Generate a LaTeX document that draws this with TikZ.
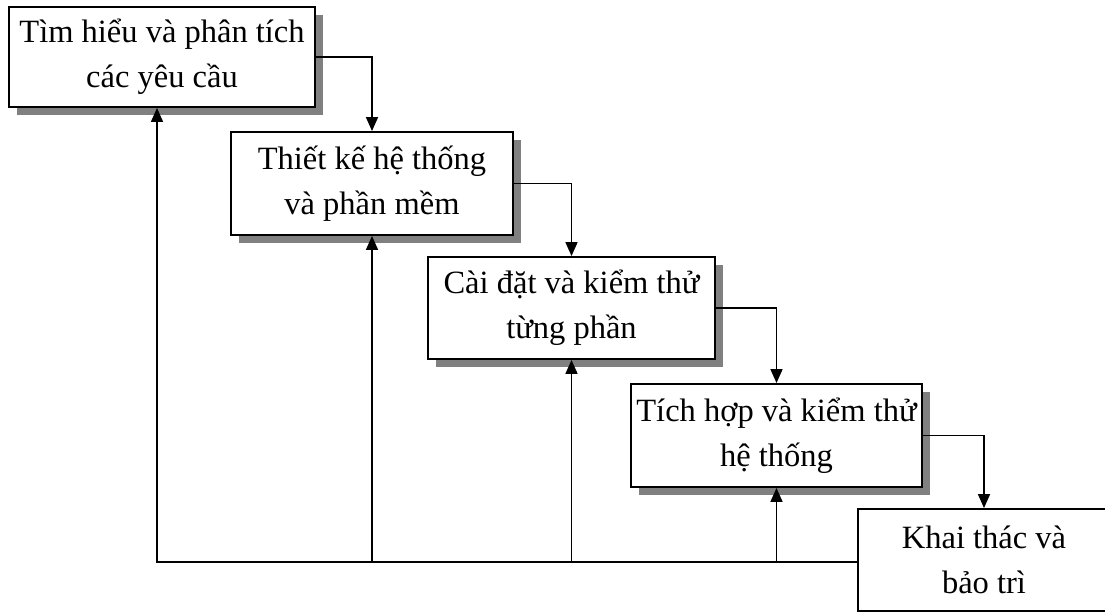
\documentclass[tikz,border=0pt]{standalone}
\usepackage{fontspec}
\setmainfont{Liberation Serif}
\usetikzlibrary{arrows.meta,shadows,calc}
\begin{document}
\begin{tikzpicture}[x=1pt,y=1pt,
  stage/.style={draw=black, line width=1.9pt, fill=white, rectangle, inner sep=0pt,
    align=center, font=\fontsize{32.5}{45}\selectfont,
    drop shadow={shadow xshift=8pt, shadow yshift=-8pt, fill=black!50, opacity=1}},
  arr/.style={line width=1.7pt, -{Triangle[length=14pt,width=12pt]}}]
\clip (0,0) rectangle (1105,-611);
\fill[white] (0,0) rectangle (1105,-611);
\node[stage, minimum width=306pt, minimum height=100pt] (b1) at (162,-57) {Tìm hiểu và phân tích\\các yêu cầu};
\node[stage, minimum width=282pt, minimum height=103pt] (b2) at (372,-183.5) {Thiết kế hệ thống\\và phần mềm};
\node[stage, minimum width=287pt, minimum height=102pt] (b3) at (571.5,-308) {Cài đặt và kiểm thử\\từng phần};
\node[stage, minimum width=291pt, minimum height=103pt] (b4) at (776.5,-435.5) {Tích hợp và kiểm thử\\hệ thống};
\node[stage, minimum width=252pt, minimum height=102pt] (b5) at (984,-560) {Khai thác và\\bảo trì};
% forward flow
\draw[arr] (b1.east) -| (b2.north);
\draw[arr] (b2.east) -| (b3.north);
\draw[arr] (b3.east) -| (b4.north);
\draw[arr] (b4.east) -| (b5.north);
% feedback
\coordinate (f1) at ([xshift=-5pt]b1.south);
\coordinate (fb) at ([yshift=-2pt]b5.west);
\draw[arr] (fb) -| (f1);
\draw[arr] (b2.south |- fb) -- (b2.south);
\draw[arr] (b3.south |- fb) -- (b3.south);
\draw[arr] (b4.south |- fb) -- (b4.south);
\end{tikzpicture}
\end{document}
